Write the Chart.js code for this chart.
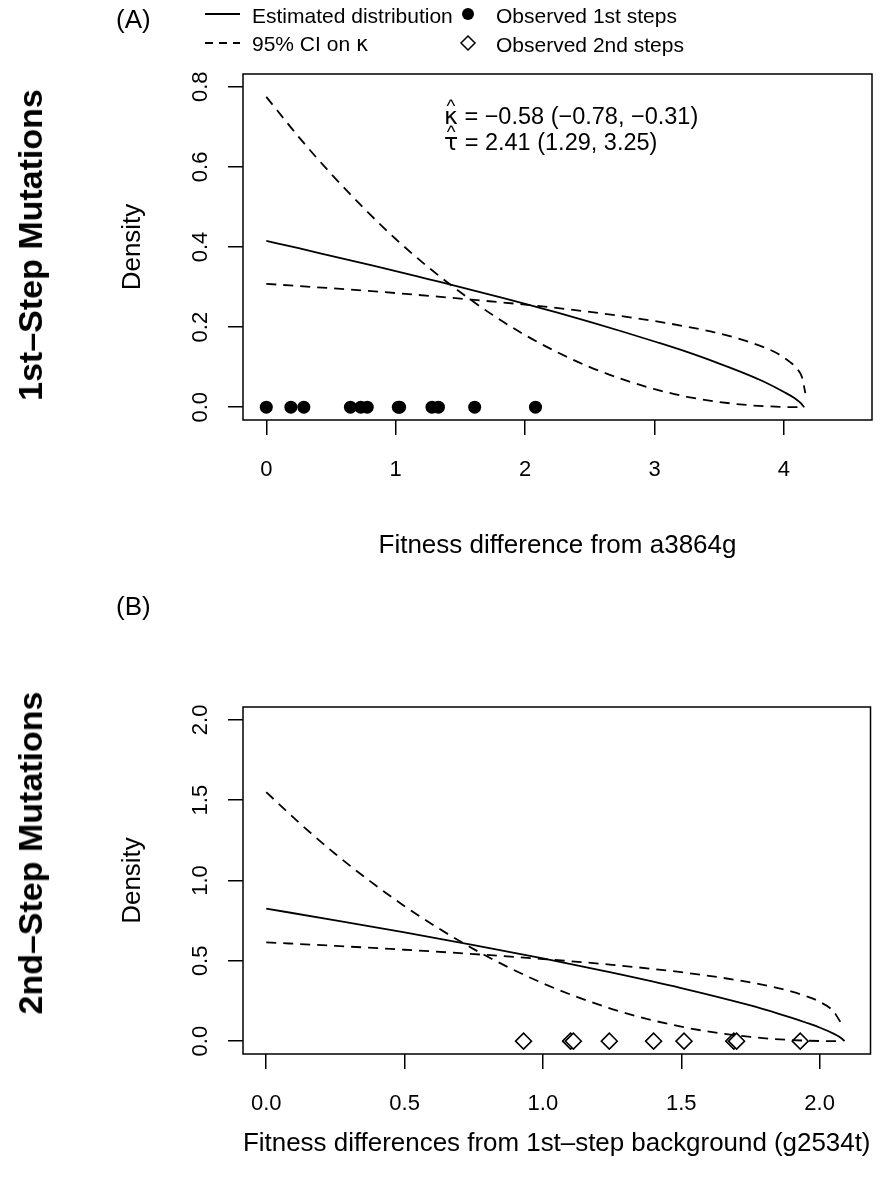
<!DOCTYPE html>
<html>
<head>
<meta charset="utf-8">
<script src="https://cdn.jsdelivr.net/npm/chart.js@4.4.1/dist/chart.umd.min.js"></script>
<style>
  html, body { margin: 0; padding: 0; background: #fff; }
  body { width: 880px; height: 1186px; position: relative; overflow: hidden;
         font-family: "Liberation Sans", Arial, Helvetica, sans-serif; color: #000; }
  .panel { position: absolute; left: 0; width: 880px; height: 593px; }
  .txt { position: absolute; white-space: nowrap; line-height: 1; transform: translateY(-50%); }
  .rot { position: absolute; white-space: nowrap; line-height: 1; font-weight: bold;
         transform: translate(-50%, -50%) rotate(-90deg); }
  .greek { font-family: "DejaVu Sans", sans-serif; }
  .hat { position: relative; display: inline-block; }
  .hat::after { content: "^"; position: absolute; left: 50%; top: -0.40em;
                transform: translateX(-50%); font-family: "Liberation Sans", sans-serif; font-size: 0.8em; }
</style>
</head>
<body>

<div class="panel" style="top:0"><canvas id="chartA" width="880" height="593"></canvas></div>
<div class="panel" style="top:593px"><canvas id="chartB" width="880" height="593"></canvas></div>

<!-- panel tags and row labels -->
<div class="txt" style="left:116px; top:19px; font-size:26px">(A)</div>
<div class="txt" style="left:116px; top:606px; font-size:26px">(B)</div>
<div class="rot" style="left:30px; top:245px; font-size:34px">1st–Step Mutations</div>
<div class="rot" style="left:30px; top:853px; font-size:34px">2nd–Step Mutations</div>

<!-- legend -->
<svg style="position:absolute; left:0; top:0" width="880" height="60">
  <line x1="205" y1="14" x2="240" y2="14" stroke="#000" stroke-width="1.8"/>
  <line x1="205" y1="43" x2="240" y2="43" stroke="#000" stroke-width="1.8" stroke-dasharray="8,6"/>
  <circle cx="468" cy="14" r="6" fill="#000"/>
  <polygon points="468,36 475,43 468,50 461,43" fill="#fff" stroke="#000" stroke-width="1.5"/>
</svg>
<div class="txt" style="left:252px; top:15px; font-size:21px">Estimated distribution</div>
<div class="txt" style="left:252px; top:44px; font-size:21px">95% CI on <span class="greek">κ</span></div>
<div class="txt" style="left:496px; top:15px; font-size:21px">Observed 1st steps</div>
<div class="txt" style="left:496px; top:44px; font-size:21px">Observed 2nd steps</div>

<!-- estimates -->
<div class="txt" style="left:444px; top:117px; font-size:23.5px"><span class="hat greek">κ</span> = −0.58 (−0.78, −0.31)</div>
<div class="txt" style="left:444px; top:143px; font-size:23.5px"><span class="hat greek">τ</span> = 2.41 (1.29, 3.25)</div>

<script>
// ---------- Panel A: 1st-step mutations ----------
const estXA  = [0, 0.25, 0.5, 0.75, 1.0, 1.25, 1.5, 1.75, 2.0, 2.25, 2.5, 2.75, 3.0, 3.25, 3.5, 3.7, 3.85, 4.0, 4.08, 4.13, 4.155];
const estYA  = [0.415, 0.397, 0.378, 0.359, 0.340, 0.320, 0.300, 0.279, 0.258, 0.236, 0.213, 0.189, 0.164, 0.138, 0.109, 0.084, 0.063, 0.038, 0.023, 0.010, 0];
const ciLoXA = [0, 0.25, 0.5, 0.75, 1.0, 1.25, 1.5, 1.75, 2.0, 2.25, 2.5, 2.75, 3.0, 3.25, 3.5, 3.75, 4.0, 4.16];
const ciLoYA = [0.775, 0.675, 0.583, 0.498, 0.420, 0.350, 0.287, 0.230, 0.180, 0.137, 0.100, 0.070, 0.045, 0.026, 0.013, 0.0045, 0.0006, 0];
const ciHiXA = [0, 0.5, 1.0, 1.5, 2.0, 2.5, 3.0, 3.25, 3.5, 3.7, 3.85, 3.95, 4.05, 4.1, 4.14, 4.165];
const ciHiYA = [0.308, 0.297, 0.285, 0.271, 0.256, 0.238, 0.215, 0.201, 0.184, 0.166, 0.149, 0.134, 0.112, 0.096, 0.074, 0.035];
const obsA   = [0, 0.19, 0.29, 0.65, 0.73, 0.78, 1.02, 1.03, 1.28, 1.33, 1.61, 2.08];
const xTicksA = [0, 1, 2, 3, 4];
const xLabelsA = ['0', '1', '2', '3', '4'];
const yTicksA = [0, 0.2, 0.4, 0.6, 0.8];
const yLabelsA = ['0.0', '0.2', '0.4', '0.6', '0.8'];

// ---------- Panel B: 2nd-step mutations ----------
const estXB  = [0, 0.25, 0.5, 0.75, 1.0, 1.25, 1.5, 1.75, 1.85, 1.9, 1.95, 2.0, 2.05, 2.08, 2.09];
const estYB  = [0.825, 0.752, 0.677, 0.598, 0.515, 0.426, 0.330, 0.222, 0.172, 0.145, 0.116, 0.085, 0.047, 0.017, 0];
const ciLoXB = [0, 0.125, 0.25, 0.375, 0.5, 0.625, 0.75, 0.875, 1.0, 1.125, 1.25, 1.375, 1.5, 1.625, 1.75, 1.875, 2.0, 2.08];
const ciLoYB = [1.55, 1.350, 1.165, 0.996, 0.840, 0.700, 0.573, 0.460, 0.360, 0.274, 0.200, 0.139, 0.090, 0.053, 0.026, 0.009, 0.001, 0];
const ciHiXB = [0, 0.25, 0.5, 0.75, 1.0, 1.25, 1.5, 1.75, 1.85, 1.9, 1.95, 2.0, 2.05, 2.075];
const ciHiYB = [0.615, 0.593, 0.569, 0.542, 0.511, 0.475, 0.429, 0.366, 0.330, 0.308, 0.281, 0.245, 0.186, 0.120];
const obsB   = [0.93, 1.10, 1.11, 1.24, 1.40, 1.51, 1.69, 1.70, 1.93];
const xTicksB = [0, 0.5, 1.0, 1.5, 2.0];
const xLabelsB = ['0.0', '0.5', '1.0', '1.5', '2.0'];
const yTicksB = [0, 0.5, 1.0, 1.5, 2.0];
const yLabelsB = ['0.0', '0.5', '1.0', '1.5', '2.0'];

const FONT = '"Liberation Sans", Arial, Helvetica, sans-serif';

function pts(xs, ys) {
    return xs.map((x, i) => ({ x: x, y: ys[i] }));
}

function lineSet(xs, ys, dashed) {
    return {
        data: pts(xs, ys),
        showLine: true,
        borderColor: '#000',
        borderWidth: 1.8,
        borderDash: dashed ? [10, 7] : [],
        pointRadius: 0,
        cubicInterpolationMode: 'monotone'
    };
}

// box around the plot + vertical (rotated) y tick labels, like R's defaults
const frameAndYLabels = {
    id: 'frameAndYLabels',
    afterDraw(chart, args, opts) {
        const { ctx, chartArea: a } = chart;
        const y = chart.scales.y;
        ctx.save();
        ctx.strokeStyle = '#000';
        ctx.lineWidth = 1.5;
        ctx.strokeRect(a.left, a.top, a.right - a.left, a.bottom - a.top);
        ctx.fillStyle = '#000';
        ctx.font = '22px ' + FONT;
        ctx.textAlign = 'center';
        ctx.textBaseline = 'middle';
        y.ticks.forEach((t, i) => {
            ctx.save();
            ctx.translate(opts.labelX, y.getPixelForValue(t.value));
            ctx.rotate(-Math.PI / 2);
            ctx.fillText(opts.labels[i], 0, 0);
            ctx.restore();
        });
        ctx.restore();
    }
};

function makePanel(id, cfg) {
    new Chart(document.getElementById(id), {
        type: 'scatter',
        data: {
            datasets: [
                lineSet(cfg.estX, cfg.estY, false),
                lineSet(cfg.loX, cfg.loY, true),
                lineSet(cfg.hiX, cfg.hiY, true),
                cfg.points
            ]
        },
        options: {
            responsive: false,
            animation: false,
            devicePixelRatio: 1,
            layout: { padding: { left: 0, right: 8, top: cfg.top, bottom: 0 } },
            plugins: {
                legend: { display: false },
                tooltip: { enabled: false },
                frameAndYLabels: { labelX: 201, labels: cfg.yLabels }
            },
            scales: {
                x: {
                    type: 'linear',
                    min: cfg.xMin, max: cfg.xMax,
                    afterBuildTicks: s => { s.ticks = cfg.xTicks.map(v => ({ value: v })); },
                    afterFit: s => { s.height = 593 - cfg.bottom; },
                    grid: { drawOnChartArea: false, drawTicks: true, tickLength: 15, color: '#000', lineWidth: 1.5 },
                    border: { display: false },
                    ticks: {
                        autoSkip: false, maxRotation: 0, padding: 22, color: '#000',
                        font: { family: FONT, size: 22 },
                        callback: (v, i) => cfg.xLabels[i]
                    },
                    title: {
                        display: true, text: cfg.xTitle, color: '#000',
                        font: { family: FONT, size: 26 },
                        padding: { top: 0, bottom: cfg.titlePad }
                    }
                },
                y: {
                    type: 'linear',
                    min: cfg.yMin, max: cfg.yMax,
                    afterBuildTicks: s => { s.ticks = cfg.yTicks.map(v => ({ value: v })); },
                    afterFit: s => { s.width = 243; },
                    grid: { drawOnChartArea: false, drawTicks: true, tickLength: 15, color: '#000', lineWidth: 1.5 },
                    border: { display: false },
                    ticks: { display: false },
                    title: {
                        display: true, text: 'Density', color: '#000',
                        font: { family: FONT, size: 26 },
                        padding: { top: 117, bottom: 0 }
                    }
                }
            }
        },
        plugins: [frameAndYLabels]
    });
}

makePanel('chartA', {
    estX: estXA, estY: estYA, loX: ciLoXA, loY: ciLoYA, hiX: ciHiXA, hiY: ciHiYA,
    points: {
        data: obsA.map(x => ({ x: x, y: 0 })),
        pointStyle: 'circle', pointRadius: 6.5,
        backgroundColor: '#000', borderColor: '#000', borderWidth: 0
    },
    xTicks: xTicksA, xLabels: xLabelsA, yTicks: yTicksA, yLabels: yLabelsA,
    xMin: -0.18, xMax: 4.68, yMin: -0.032, yMax: 0.832,
    top: 74, bottom: 420, titlePad: 32,
    xTitle: 'Fitness difference from a3864g'
});

makePanel('chartB', {
    estX: estXB, estY: estYB, loX: ciLoXB, loY: ciLoYB, hiX: ciHiXB, hiY: ciHiYB,
    points: {
        data: obsB.map(x => ({ x: x, y: 0 })),
        pointStyle: 'rectRot', pointRadius: 8,
        backgroundColor: '#fff', borderColor: '#000', borderWidth: 1.5
    },
    xTicks: xTicksB, xLabels: xLabelsB, yTicks: yTicksB, yLabels: yLabelsB,
    xMin: -0.084, xMax: 2.184, yMin: -0.08, yMax: 2.08,
    top: 114, bottom: 461, titlePad: 27,
    xTitle: 'Fitness differences from 1st–step background (g2534t)'
});
</script>
</body>
</html>
